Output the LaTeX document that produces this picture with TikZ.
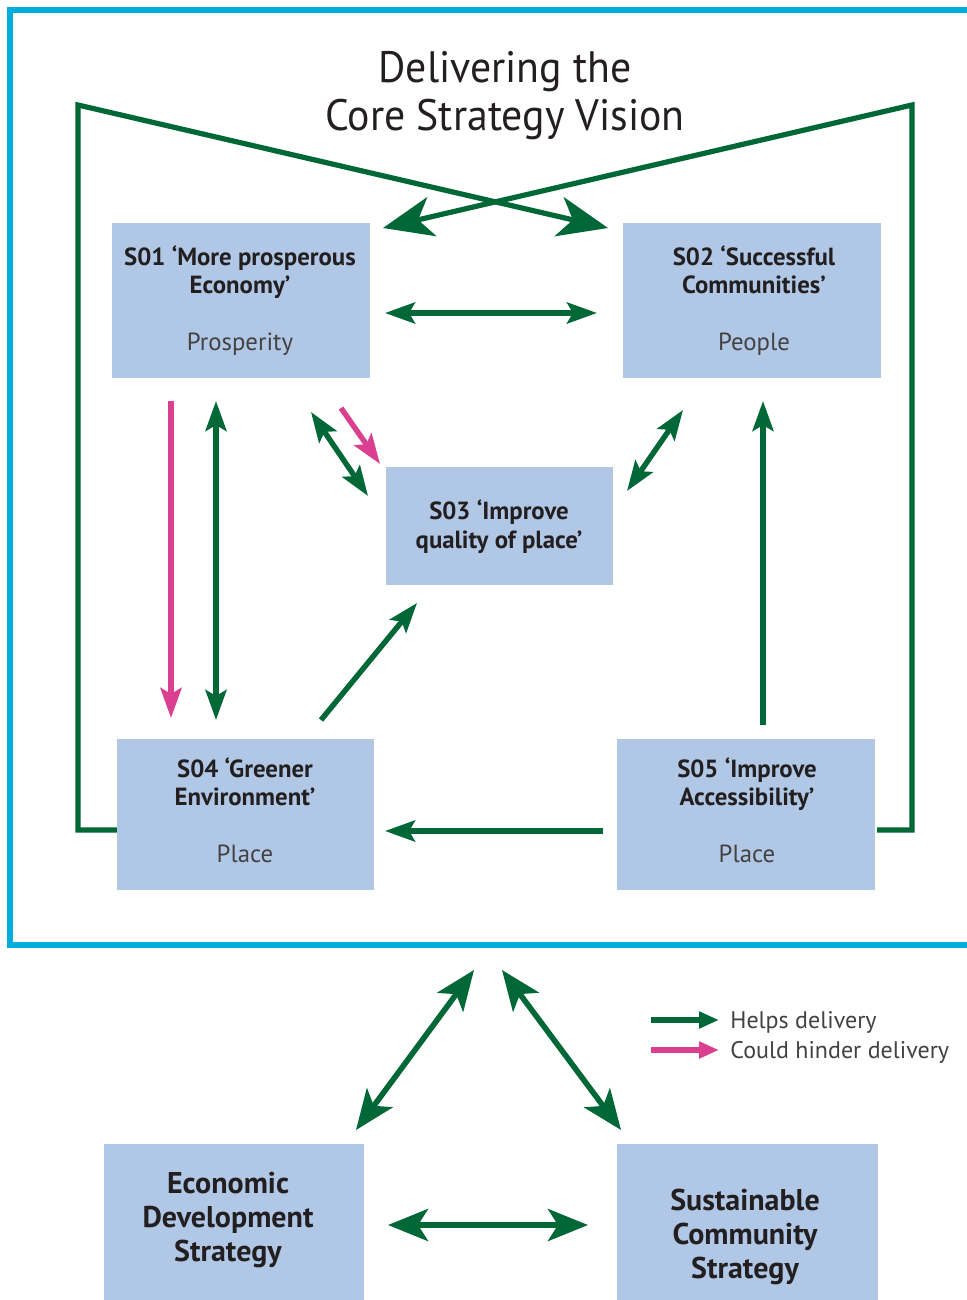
\documentclass[tikz,border=0pt]{standalone}
\usepackage{fontspec}
\setmainfont{PT Sans}
\newfontfamily\condfont[FakeStretch=0.95]{PT Sans}
\usetikzlibrary{arrows.meta}
\definecolor{cyanframe}{RGB}{0,174,219}
\definecolor{dgreen}{RGB}{0,104,55}
\definecolor{pinkarr}{RGB}{218,64,143}
\definecolor{boxblue}{RGB}{176,200,230}
\definecolor{txt}{RGB}{35,31,32}
\begin{document}
\begin{tikzpicture}[x=0.5pt,y=-0.5pt,
  sbox/.style={fill=boxblue, draw=none, inner sep=0, anchor=north west},
  boldtxt/.style={anchor=base, inner sep=0, text=txt, font=\bfseries\fontsize{12.4}{14}\selectfont},
  subtxt/.style={anchor=base, inner sep=0, text=txt!85, font=\fontsize{12.4}{14}\selectfont},
  bigtxt/.style={anchor=base, inner sep=0, text=txt, font=\bfseries\fontsize{15}{17}\selectfont},
  legtxt/.style={anchor=base west, inner sep=0, text=txt!85, font=\fontsize{12}{14}\selectfont},
  loop/.style={draw=dgreen, line width=2.6pt, line join=miter},
  bighead/.style={-{Stealth[length=25pt,width=20pt,inset=7pt]}},
  midg/.style={draw=dgreen, line width=2.7pt},
  midp/.style={draw=pinkarr, line width=2.7pt},
  midhead/.style={{Stealth[length=15pt,width=10.5pt,inset=3pt]}-{Stealth[length=15pt,width=10.5pt,inset=3pt]}},
  onehead/.style={-{Stealth[length=15pt,width=10.5pt,inset=3pt]}},
  boths/.style={draw=dgreen, line width=2.8pt, {Stealth[length=20pt,width=16pt,inset=5pt]}-{Stealth[length=20pt,width=16pt,inset=5pt]}},
  leg/.style={line width=3pt, -{Triangle[length=10pt,width=8pt]}}
]
\useasboundingbox (0,0) rectangle (967,1300);
\fill[white] (0,0) rectangle (967,1300);
% frame
\draw[cyanframe, line width=3.2pt] (967,10) -- (10,10) -- (10,945) -- (967,945);
% title
\node[anchor=base, inner sep=0, text=txt, font=\condfont\fontsize{22}{24}\selectfont] (t1) at (505,83) {Delivering the};
\node[anchor=base, inner sep=0, text=txt, font=\condfont\fontsize{22}{24}\selectfont] (t2) at (505,131) {Core Strategy Vision};
% loop
\coordinate (lc) at (78,105);
\coordinate (rc) at (912,105);
\coordinate (lb) at (78,830);
\coordinate (rb) at (912,830);
\coordinate (lt) at (608,228);
\coordinate (rt) at (383,228);
\draw[loop, bighead] (117,830) -- (lb) -- (lc) -- (lt);
\draw[loop, bighead] (877,830) -- (rb) -- (rc) -- (rt);
% boxes
\node[sbox, minimum width=129pt, minimum height=77.5pt] (s1) at (112,223) {};
\node[sbox, minimum width=129pt, minimum height=77.5pt] (s2) at (623,223) {};
\node[sbox, minimum width=113.5pt, minimum height=59pt] (s3) at (386,467) {};
\node[sbox, minimum width=128.5pt, minimum height=75.5pt] (s4) at (117,739) {};
\node[sbox, minimum width=129pt, minimum height=75.5pt] (s5) at (617,739) {};
\node[sbox, minimum width=130pt, minimum height=78pt] (eds) at (104,1144) {};
\node[sbox, minimum width=130.5pt, minimum height=78pt] (scs) at (617,1144) {};
% texts
\node[boldtxt] (s1a) at (240,265) {S01 ‘More prosperous};
\node[boldtxt] (s1b) at (240,293) {Economy’};
\node[subtxt] (s1c) at (240,350) {Prosperity};
\node[boldtxt] (s2a) at (754,265) {S02 ‘Successful};
\node[boldtxt] (s2b) at (754,293) {Communities’};
\node[subtxt] (s2c) at (754,350) {People};
\node[boldtxt] (s3a) at (499,519) {S03 ‘Improve};
\node[boldtxt] (s3b) at (499,548) {quality of place’};
\node[boldtxt] (s4a) at (245,777) {S04 ‘Greener};
\node[boldtxt] (s4b) at (245,805) {Environment’};
\node[subtxt] (s4c) at (245,862) {Place};
\node[boldtxt] (s5a) at (747,777) {S05 ‘Improve};
\node[boldtxt] (s5b) at (747,805) {Accessibility’};
\node[subtxt] (s5c) at (747,862) {Place};
\node[bigtxt] (e1) at (228,1193) {Economic};
\node[bigtxt] (e2) at (228,1227) {Development};
\node[bigtxt] (e3) at (228,1261) {Strategy};
\node[bigtxt] (c1) at (745,1210) {Sustainable};
\node[bigtxt] (c2) at (745,1244) {Community};
\node[bigtxt] (c3) at (745,1278) {Strategy};
% arrow end points
\coordinate (a12a) at (385,313); \coordinate (a12b) at (597,313);
\coordinate (p14a) at (171,401); \coordinate (p14b) at (171,718);
\coordinate (g14a) at (216,401); \coordinate (g14b) at (216,720);
\coordinate (g13a) at (311,412); \coordinate (g13b) at (368,496);
\coordinate (p13a) at (341,408); \coordinate (p13b) at (380,464);
\coordinate (g23a) at (683,410); \coordinate (g23b) at (627,491);
\coordinate (g43a) at (321,720); \coordinate (g43b) at (417,603);
\coordinate (g52a) at (763,725); \coordinate (g52b) at (763,401);
\coordinate (g54a) at (603,831); \coordinate (g54b) at (385,831);
\coordinate (bl1) at (356,1130); \coordinate (bl2) at (474,970);
\coordinate (br1) at (502,970); \coordinate (br2) at (621,1130);
\coordinate (bh1) at (388,1225); \coordinate (bh2) at (588,1225);
% arrows
\draw[midg, midhead] (a12a) -- (a12b);
\draw[midp, onehead] (p14a) -- (p14b);
\draw[midg, midhead] (g14a) -- (g14b);
\draw[midg, midhead] (g13a) -- (g13b);
\draw[midp, onehead] (p13a) -- (p13b);
\draw[midg, midhead] (g23a) -- (g23b);
\draw[midg, onehead] (g43a) -- (g43b);
\draw[midg, onehead] (g52a) -- (g52b);
\draw[midg, onehead] (g54a) -- (g54b);
\draw[boths] (bl1) -- (bl2);
\draw[boths] (br1) -- (br2);
\draw[boths] (bh1) -- (bh2);
% legend
\coordinate (lg1) at (651,1020); \coordinate (lg2) at (719,1020);
\coordinate (lp1) at (651,1050); \coordinate (lp2) at (719,1050);
\draw[leg, dgreen] (lg1) -- (lg2);
\draw[leg, pinkarr] (lp1) -- (lp2);
\node[legtxt] (lgt) at (730,1028) {Helps delivery};
\node[legtxt] (lpt) at (730,1058) {Could hinder delivery};
\end{tikzpicture}
\end{document}
